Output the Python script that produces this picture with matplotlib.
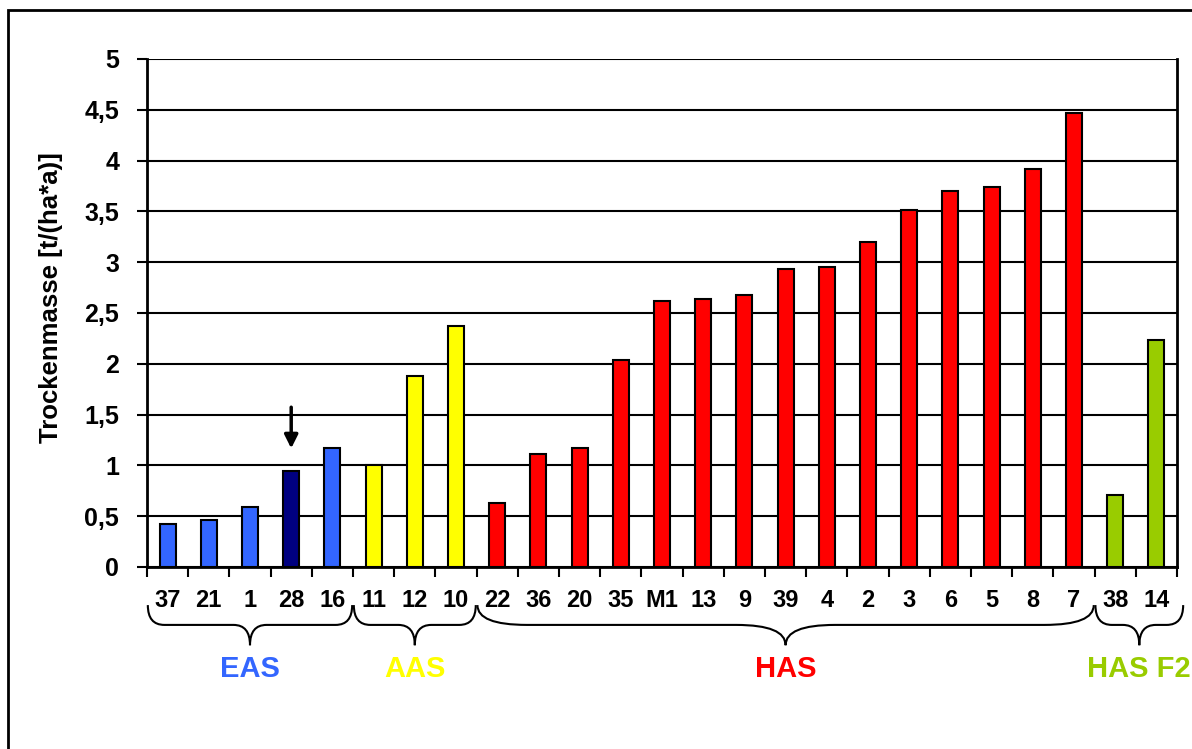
import matplotlib.pyplot as plt
from matplotlib.patches import Rectangle, PathPatch
from matplotlib.path import Path
import matplotlib.transforms as mtransforms

plt.rcParams['font.family'] = ['Liberation Sans', 'DejaVu Sans']
plt.rcParams['font.weight'] = 'bold'

# data
labels = ['37', '21', '1', '28', '16', '11', '12', '10', '22', '36', '20', '35', 'M1',
          '13', '9', '39', '4', '2', '3', '6', '5', '8', '7', '38', '14']
values = [0.42, 0.46, 0.59, 0.94, 1.17, 1.00, 1.88, 2.37, 0.63, 1.11, 1.17, 2.04, 2.62,
          2.64, 2.68, 2.93, 2.95, 3.20, 3.51, 3.70, 3.74, 3.92, 4.47, 0.71, 2.23]
groups = ['EAS', 'AAS', 'HAS', 'HAS F2']
group_sizes = [5, 3, 15, 2]
group_colors = ['#3366FF', '#FFFF00', '#FF0000', '#99CC00']
highlight = '28'
highlight_color = '#000080'

colors = []
for g, n in enumerate(group_sizes):
    colors += [group_colors[g]] * n
colors = [highlight_color if lab == highlight else c for lab, c in zip(labels, colors)]

fig = plt.figure(figsize=(11.92, 7.49), dpi=100)
ax = fig.add_axes([147 / 1192, 1 - 567 / 749, 1030 / 1192, 508 / 749])

x = list(range(len(labels)))
ax.bar(x, values, width=0.39, color=colors, edgecolor='black', linewidth=1.5, zorder=3)

ax.set_xlim(-0.5, len(labels) - 0.5)
ax.set_ylim(0, 5)
ax.set_yticks([i * 0.5 for i in range(11)])
ax.set_yticklabels(['0', '0,5', '1', '1,5', '2', '2,5', '3', '3,5', '4', '4,5', '5'])
ax.yaxis.grid(True, color='black', linewidth=1.5, zorder=0)
ax.set_axisbelow(True)

ax.set_xticks(x)
ax.set_xticklabels(labels)
ax.set_xticks([i - 0.5 for i in range(len(labels) + 1)], minor=True)
ax.tick_params(axis='x', which='major', length=0, pad=16, labelsize=17)
ax.tick_params(axis='x', which='minor', length=7, width=1.5, direction='out')
ax.tick_params(axis='y', length=7, width=1.5, pad=13, labelsize=18)
for s in ax.spines.values():
    s.set_linewidth(2)
ax.spines['top'].set_visible(False)

ax.set_ylabel('Trockenmasse [t/(ha*a)]', fontsize=18.5, fontweight='bold')
ax.yaxis.set_label_coords(-0.082, 0.531)

# arrow above bar 28
i28 = labels.index(highlight)
ax.annotate('', xy=(i28, values[i28] + 0.2), xytext=(i28, values[i28] + 0.66),
            arrowprops=dict(arrowstyle='-|>,head_width=0.4,head_length=0.8',
                            color='black', lw=2.5), zorder=5)

# braces below the axis
trans = mtransforms.blended_transform_factory(ax.transData, ax.transAxes)
ytop, ymid, ybot = -0.075, -0.114, -0.154


def brace(x0, x1, r):
    xm = (x0 + x1) / 2
    verts = [(x0, ytop), (x0, ymid), (x0 + r, ymid), (xm - r, ymid), (xm, ymid), (xm, ybot),
             (xm, ymid), (xm + r, ymid), (x1 - r, ymid), (x1, ymid), (x1, ytop)]
    codes = [Path.MOVETO, Path.CURVE3, Path.CURVE3, Path.LINETO, Path.CURVE3, Path.CURVE3,
             Path.CURVE3, Path.CURVE3, Path.LINETO, Path.CURVE3, Path.CURVE3]
    p = PathPatch(Path(verts, codes), transform=trans, fill=False, lw=1.5,
                  edgecolor='black', clip_on=False)
    ax.add_patch(p)
    return xm


start = -0.5
for g, n in enumerate(group_sizes):
    end = start + n
    x1 = end + 0.17 if g == len(group_sizes) - 1 else end
    r = 1.2 if n > 10 else 0.4
    xm = brace(start + 0.02, x1 - 0.02, r)
    ax.text(xm, -0.2, groups[g], transform=trans, ha='center', va='center',
            color=group_colors[g], fontsize=21, fontweight='bold')
    start = end

# outer frame
fig.patches.append(Rectangle((8 / 1192, -0.05), 1.1, 1 - 10 / 749 + 0.05,
                             transform=fig.transFigure, fill=False,
                             edgecolor='black', lw=2))

fig.savefig('out.png', dpi=100)
